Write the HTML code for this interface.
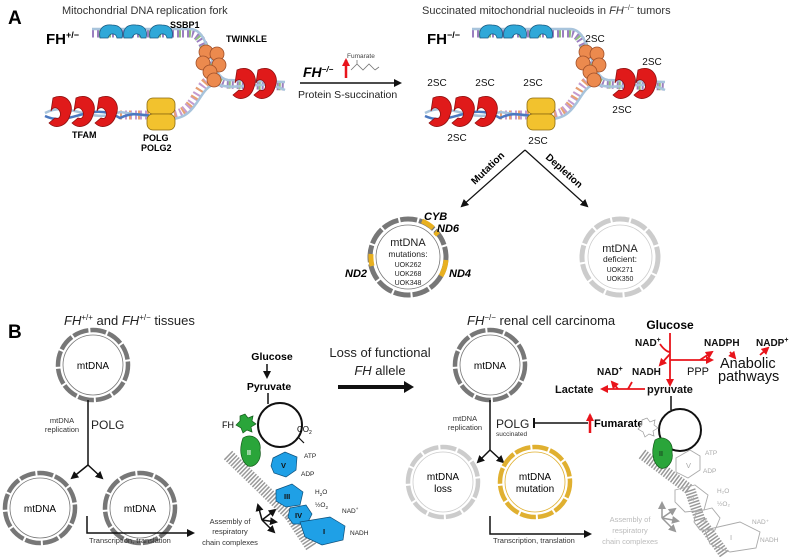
<!DOCTYPE html>
<html><head><meta charset="utf-8"><style>
html,body{margin:0;padding:0;background:#fff;}
svg{display:block;font-family:"Liberation Sans",Arial,sans-serif;}
</style></head><body>
<svg width="800" height="557" viewBox="0 0 800 557" xmlns="http://www.w3.org/2000/svg">
<defs>
<marker id="ah" markerWidth="8" markerHeight="8" refX="6" refY="4" orient="auto" markerUnits="userSpaceOnUse"><path d="M0,0 L8,4 L0,8 Z" fill="#111"/></marker>
<marker id="ahr" markerWidth="8" markerHeight="8" refX="6" refY="4" orient="auto" markerUnits="userSpaceOnUse"><path d="M0,0 L8,4 L0,8 Z" fill="#e8141b"/></marker>
<marker id="ahg" markerWidth="8" markerHeight="8" refX="6" refY="4" orient="auto" markerUnits="userSpaceOnUse"><path d="M0,0 L8,4 L0,8 Z" fill="#999"/></marker>
<g id="fork">
  <path d="M92,33 L190,33 C210,33 206,82 226,84 L285,86" fill="none" stroke="#9b7fc0" stroke-width="9" stroke-dasharray="2 3"/>
  <path d="M92,33 L190,33 C210,33 206,82 226,84 L285,86" fill="none" stroke="#8fc07a" stroke-width="9" stroke-dasharray="2 8" stroke-dashoffset="3"/>
  <path d="M120,115 L170,115 C195,115 196,84 212,78" fill="none" stroke="#c49bd0" stroke-width="9" stroke-dasharray="2 3"/>
  <path d="M120,115 L170,115 C195,115 196,84 212,78" fill="none" stroke="#e8a070" stroke-width="9" stroke-dasharray="2 7"/>
  <path d="M92,29 L190,29 C212,29 208,78 228,80 L285,82" fill="none" stroke="#a8c4dc" stroke-width="2.5"/>
  <path d="M45,113 C70,100 90,125 120,112 L170,119 C198,119 198,88 215,84 C240,92 260,78 285,90" fill="none" stroke="#a8c4dc" stroke-width="2.5"/>
  <path d="M45,116 C70,128 90,100 120,118 C140,108 150,122 170,112" fill="none" stroke="#4a78c0" stroke-width="2.5"/>
  <g fill="#2fa8d8" stroke="#1a5a80" stroke-width="0.8">
    <path d="M100,38 C98,28 104,24 112,25 C120,25 124,30 122,38 L117,38 C116,33 110,32 108,38 Z"/>
    <path d="M124,38 C122,28 128,24 136,25 C144,25 148,30 146,38 L141,38 C140,33 134,32 132,38 Z"/>
    <path d="M150,38 C148,28 154,24 162,25 C170,25 174,30 172,38 L167,38 C166,33 160,32 158,38 Z"/>
  </g>
  <g fill="#ec8a4e" stroke="#a0502a" stroke-width="0.8">
    <circle cx="206" cy="52" r="7"/><circle cx="217" cy="54" r="7"/><circle cx="203" cy="63" r="7"/>
    <circle cx="219" cy="65" r="7"/><circle cx="210" cy="72" r="7"/><circle cx="214" cy="80" r="7"/>
  </g>
  <g fill="#e01a1a" stroke="#901010" stroke-width="0.8">
    <path d="M237,70 C250,64 259,76 254,87 C251,98 240,102 233,95 L239,90 C244,92 246,86 243,82 C240,78 236,80 235,83 Z"/>
    <path d="M258,70 C271,64 280,76 275,87 C272,98 261,102 254,95 L260,90 C265,92 267,86 264,82 C261,78 257,80 256,83 Z"/>
    <path d="M53,98 C66,92 75,104 70,115 C67,126 56,130 49,123 L55,118 C60,120 62,114 59,110 C56,106 52,108 51,111 Z"/>
    <path d="M76,98 C89,92 98,104 93,115 C90,126 79,130 72,123 L78,118 C83,120 85,114 82,110 C79,106 75,108 74,111 Z"/>
    <path d="M99,98 C112,92 121,104 116,115 C113,126 102,130 95,123 L101,118 C106,120 108,114 105,110 C102,106 98,108 97,111 Z"/>
  </g>
  <g fill="#f2c22e" stroke="#8a6a10" stroke-width="0.8">
    <rect x="147" y="98" width="28" height="16" rx="6"/>
    <rect x="147" y="114" width="28" height="16" rx="6"/>
  </g>
</g>
<g id="ring">
  <circle r="38" fill="none" stroke="currentColor" stroke-width="5" stroke-dasharray="17 2"/>
  <circle r="32" fill="#fff" stroke="currentColor" stroke-width="0.8"/>
</g>
<g id="ring2">
  <circle r="35" fill="none" stroke="currentColor" stroke-width="4.5" stroke-dasharray="16 2"/>
  <circle r="30" fill="#fff" stroke="currentColor" stroke-width="0.8"/>
</g>
</defs>

<text x="8" y="24" font-size="19" font-weight="bold">A</text>
<text x="62" y="14" font-size="11" fill="#333">Mitochondrial DNA replication fork</text>
<use href="#fork"/>
<text x="46" y="44" font-size="15" font-weight="bold">FH<tspan font-size="9" dy="-6">+/−</tspan></text>
<text x="170" y="28" font-size="9" font-weight="bold">SSBP1</text>
<text x="226" y="42" font-size="9" font-weight="bold">TWINKLE</text>
<text x="72" y="138" font-size="9" font-weight="bold">TFAM</text>
<text x="143" y="141" font-size="9" font-weight="bold">POLG</text>
<text x="141" y="151" font-size="9" font-weight="bold">POLG2</text>

<line x1="300" y1="83" x2="400" y2="83" stroke="#111" stroke-width="1.5" marker-end="url(#ah)"/>
<text x="303" y="77" font-size="14" font-weight="bold" font-style="italic">FH<tspan font-size="8" dy="-5">−/−</tspan></text>
<line x1="346" y1="78" x2="346" y2="60" stroke="#e8141b" stroke-width="2.5" marker-end="url(#ahr)"/>
<text x="347" y="58" font-size="6.5" fill="#444">Fumarate</text>
<path d="M351,70 L357,64 L363,70 L369,64 L375,70 M357,64 L357,60 M375,70 L379,67" fill="none" stroke="#777" stroke-width="0.8"/>
<text x="298" y="98" font-size="10.5" fill="#222">Protein S-succination</text>

<text x="422" y="14" font-size="11" fill="#333">Succinated mitochondrial nucleoids in <tspan font-style="italic">FH</tspan><tspan font-size="7" dy="-4">−/−</tspan><tspan dy="4"> tumors</tspan></text>
<use href="#fork" transform="translate(380,0)"/>
<text x="427" y="44" font-size="15" font-weight="bold">FH<tspan font-size="9" dy="-6">−/−</tspan></text>
<g font-size="10" fill="#111" text-anchor="middle">
  <text x="595" y="42">2SC</text>
  <text x="652" y="65">2SC</text>
  <text x="437" y="86">2SC</text>
  <text x="485" y="86">2SC</text>
  <text x="533" y="86">2SC</text>
  <text x="457" y="141">2SC</text>
  <text x="538" y="144">2SC</text>
  <text x="622" y="113">2SC</text>
</g>

<line x1="525" y1="150" x2="462" y2="206" stroke="#111" stroke-width="1.2" marker-end="url(#ah)"/>
<line x1="525" y1="150" x2="587" y2="206" stroke="#111" stroke-width="1.2" marker-end="url(#ah)"/>
<text transform="translate(475,185) rotate(-44)" font-size="10" font-weight="bold">Mutation</text>
<text transform="translate(545,158) rotate(42)" font-size="10" font-weight="bold">Depletion</text>

<use href="#ring" x="408" y="257" color="#777"/>
<g stroke="#e8b020" stroke-width="5" fill="none">
  <path d="M422,221 A38,38 0 0 1 433,228"/>
  <path d="M435,232 A38,38 0 0 1 438,235"/>
  <path d="M446,260 A38,38 0 0 1 441,276"/>
  <path d="M372,266 A38,38 0 0 1 371,254"/>
</g>
<g text-anchor="middle" font-size="11" fill="#222">
  <text x="408" y="246">mtDNA</text>
  <text x="408" y="257" font-size="8.5">mutations:</text>
  <text x="408" y="267" font-size="7">UOK262</text>
  <text x="408" y="276" font-size="7">UOK268</text>
  <text x="408" y="285" font-size="7">UOK348</text>
</g>
<g font-size="11" font-weight="bold" font-style="italic">
  <text x="424" y="220">CYB</text>
  <text x="437" y="232">ND6</text>
  <text x="345" y="277">ND2</text>
  <text x="449" y="277">ND4</text>
</g>
<use href="#ring" x="620" y="257" color="#ccc"/>
<g text-anchor="middle" font-size="11" fill="#222">
  <text x="620" y="252">mtDNA</text>
  <text x="620" y="262" font-size="8.5">deficient:</text>
  <text x="620" y="272" font-size="7">UOK271</text>
  <text x="620" y="281" font-size="7">UOK350</text>
</g>

<text x="8" y="338" font-size="19" font-weight="bold">B</text>
<text x="64" y="325" font-size="13" fill="#222"><tspan font-style="italic">FH</tspan><tspan font-size="8" dy="-5">+/+</tspan><tspan dy="5"> and </tspan><tspan font-style="italic">FH</tspan><tspan font-size="8" dy="-5">+/−</tspan><tspan dy="5"> tissues</tspan></text>
<use href="#ring2" x="93" y="365" color="#777"/>
<text x="93" y="369" font-size="10" text-anchor="middle">mtDNA</text>
<line x1="88" y1="400" x2="88" y2="465" stroke="#111" stroke-width="1.5"/>
<line x1="88" y1="465" x2="72" y2="478" stroke="#111" stroke-width="1.5" marker-end="url(#ah)"/>
<line x1="88" y1="465" x2="102" y2="478" stroke="#111" stroke-width="1.5" marker-end="url(#ah)"/>
<text x="62" y="423" font-size="7.5" text-anchor="middle" fill="#333">mtDNA</text>
<text x="62" y="432" font-size="7.5" text-anchor="middle" fill="#333">replication</text>
<text x="91" y="429" font-size="12" fill="#222">POLG</text>
<use href="#ring2" x="40" y="508" color="#777"/>
<text x="40" y="512" font-size="10" text-anchor="middle">mtDNA</text>
<use href="#ring2" x="140" y="508" color="#777"/>
<text x="140" y="512" font-size="10" text-anchor="middle">mtDNA</text>
<path d="M87,516 L87,533 L193,533" fill="none" stroke="#111" stroke-width="1.5" marker-end="url(#ah)"/>
<text x="89" y="543" font-size="7.5" fill="#333">Transcription, translation</text>
<g font-size="7.5" text-anchor="middle" fill="#333">
  <text x="230" y="524">Assembly of</text>
  <text x="230" y="534">respiratory</text>
  <text x="230" y="545">chain complexes</text>
</g>
<g stroke="#111" stroke-width="1.5" marker-end="url(#ah)">
  <line x1="262" y1="520" x2="258" y2="505"/><line x1="262" y1="520" x2="275" y2="510"/>
  <line x1="262" y1="520" x2="276" y2="522"/><line x1="262" y1="520" x2="274" y2="532"/>
</g>
<text x="272" y="360" font-size="10.5" font-weight="bold" text-anchor="middle">Glucose</text>
<line x1="267" y1="364" x2="267" y2="377" stroke="#111" stroke-width="1.5" marker-end="url(#ah)"/>
<text x="269" y="390" font-size="10.5" font-weight="bold" text-anchor="middle">Pyruvate</text>
<circle cx="280" cy="425" r="22" fill="none" stroke="#111" stroke-width="2"/>
<line x1="268" y1="393" x2="268" y2="404" stroke="#111" stroke-width="1.5"/>
<path d="M298,437 L304,443" stroke="#111" stroke-width="1.2"/>
<text x="297" y="432" font-size="8">CO<tspan font-size="5" dy="2">2</tspan></text>
<text x="222" y="428" font-size="9">FH</text>
<path d="M240,416 L245,414 L248,418 L253,416 L252,421 L256,424 L251,427 L252,432 L247,430 L243,433 L241,428 L236,425 L240,421 Z" fill="#2aa53a" stroke="#135a1a" stroke-width="0.7"/>
<path d="M228,455 L290,515 L312,548" fill="none" stroke="#999" stroke-width="12" stroke-dasharray="1.5 1.5"/>
<path d="M243,438 C252,432 262,440 260,450 C262,460 255,468 248,466 C242,462 238,452 243,438 Z" fill="#2aa53a" stroke="#135a1a" stroke-width="0.7"/>
<text x="247" y="455" font-size="7" fill="#fff" font-weight="bold">II</text>
<g fill="#1fa0e6" stroke="#0e4f7a" stroke-width="0.7">
  <path d="M273,458 L285,452 L297,457 L296,470 L286,477 L274,473 L271,466 Z"/>
  <path d="M276,490 L292,484 L303,492 L300,505 L286,507 L276,501 Z"/>
  <path d="M290,508 L306,505 L312,514 L307,524 L293,524 L288,517 Z"/>
  <path d="M300,522 L330,517 L345,526 L343,540 L322,545 L305,537 Z"/>
</g>
<g font-size="7.5" font-weight="bold" fill="#111">
  <text x="281" y="468">V</text><text x="284" y="499">III</text><text x="295" y="518">IV</text><text x="323" y="534">I</text>
</g>
<g font-size="6.5" fill="#222">
  <text x="304" y="458">ATP</text><text x="301" y="476">ADP</text>
  <text x="315" y="494">H<tspan font-size="4.5" dy="2">2</tspan><tspan dy="-2">O</tspan></text>
  <text x="315" y="507">½O<tspan font-size="4.5" dy="2">2</tspan></text>
  <text x="342" y="513">NAD<tspan font-size="4.5" dy="-3">+</tspan></text>
  <text x="350" y="535">NADH</text>
</g>

<text x="380" y="357" font-size="13" text-anchor="middle" fill="#222">Loss of functional</text>
<text x="380" y="375" font-size="13" text-anchor="middle" fill="#222"><tspan font-style="italic">FH</tspan> allele</text>
<line x1="338" y1="387" x2="408" y2="387" stroke="#111" stroke-width="4"/>
<path d="M404,381 L414,387 L404,393 Z" fill="#111"/>

<text x="467" y="325" font-size="13" fill="#222"><tspan font-style="italic">FH</tspan><tspan font-size="8" dy="-5">−/−</tspan><tspan dy="5"> renal cell carcinoma</tspan></text>
<use href="#ring2" x="490" y="365" color="#777"/>
<text x="490" y="369" font-size="10" text-anchor="middle">mtDNA</text>
<line x1="490" y1="400" x2="490" y2="450" stroke="#111" stroke-width="1.5"/>
<line x1="490" y1="450" x2="478" y2="462" stroke="#111" stroke-width="1.5" marker-end="url(#ah)"/>
<line x1="490" y1="450" x2="503" y2="462" stroke="#111" stroke-width="1.5" marker-end="url(#ah)"/>
<text x="465" y="421" font-size="7.5" text-anchor="middle" fill="#333">mtDNA</text>
<text x="465" y="430" font-size="7.5" text-anchor="middle" fill="#333">replication</text>
<text x="496" y="428" font-size="12" fill="#222">POLG</text>
<text x="496" y="436" font-size="6.5" fill="#333">succinated</text>
<line x1="534" y1="423" x2="588" y2="423" stroke="#111" stroke-width="1.5"/>
<line x1="534" y1="418" x2="534" y2="428" stroke="#111" stroke-width="2"/>
<line x1="590" y1="433" x2="590" y2="415" stroke="#e8141b" stroke-width="2.5" marker-end="url(#ahr)"/>
<text x="594" y="427" font-size="11" font-weight="bold">Fumarate</text>
<use href="#ring2" x="443" y="482" color="#ccc"/>
<text x="443" y="480" font-size="10" text-anchor="middle">mtDNA</text>
<text x="443" y="492" font-size="10" text-anchor="middle">loss</text>
<use href="#ring2" x="535" y="482" color="#e0b030"/>
<text x="535" y="480" font-size="10" text-anchor="middle">mtDNA</text>
<text x="535" y="492" font-size="10" text-anchor="middle">mutation</text>
<path d="M490,516 L490,534 L590,534" fill="none" stroke="#111" stroke-width="1.5" marker-end="url(#ah)"/>
<text x="493" y="543" font-size="7.5" fill="#333">Transcription, translation</text>
<g font-size="7.5" text-anchor="middle" fill="#bbb">
  <text x="630" y="522">Assembly of</text>
  <text x="630" y="533">respiratory</text>
  <text x="630" y="544">chain complexes</text>
</g>
<g stroke="#999" stroke-width="1.5" marker-end="url(#ahg)">
  <line x1="662" y1="518" x2="662" y2="503"/><line x1="662" y1="518" x2="675" y2="509"/>
  <line x1="662" y1="518" x2="678" y2="521"/><line x1="662" y1="518" x2="675" y2="531"/>
</g>

<text x="670" y="329" font-size="12" font-weight="bold" text-anchor="middle">Glucose</text>
<g stroke="#e8141b" stroke-width="1.8" fill="none">
  <line x1="670" y1="333" x2="670" y2="385" marker-end="url(#ahr)"/>
  <path d="M660,344 C664,350 668,352 670,352"/>
  <path d="M670,354 L660,365" marker-end="url(#ahr)"/>
  <path d="M670,360 L712,360" marker-end="url(#ahr)"/>
  <path d="M700,360 L712,352" marker-end="url(#ahr)"/>
  <path d="M730,352 L735,358" marker-end="url(#ahr)"/>
  <path d="M760,355 L768,348" marker-end="url(#ahr)"/>
  <path d="M645,389 L602,389" marker-end="url(#ahr)"/>
  <path d="M632,382 L628,389"/>
  <path d="M618,389 L612,382" marker-end="url(#ahr)"/>
</g>
<g font-size="10" font-weight="bold" fill="#111">
  <text x="635" y="346">NAD<tspan font-size="7" dy="-4">+</tspan></text>
  <text x="597" y="375">NAD<tspan font-size="7" dy="-4">+</tspan></text>
  <text x="632" y="375">NADH</text>
  <text x="687" y="375" font-weight="normal" font-size="11">PPP</text>
  <text x="704" y="346">NADPH</text>
  <text x="756" y="346">NADP<tspan font-size="7" dy="-4">+</tspan></text>
  <text x="555" y="393" font-size="11">Lactate</text>
  <text x="647" y="393" font-size="11">pyruvate</text>
</g>
<text x="720" y="368" font-size="14.5" fill="#111">Anabolic</text>
<text x="718" y="381" font-size="14.5" fill="#111">pathways</text>
<circle cx="680" cy="430" r="21" fill="none" stroke="#111" stroke-width="2"/>
<line x1="671" y1="396" x2="671" y2="410" stroke="#111" stroke-width="1.5"/>
<path d="M642,420 L647,418 L650,422 L655,420 L654,425 L658,428 L653,431 L654,436 L649,434 L645,437 L643,432 L638,429 L642,425 Z" fill="#fff" stroke="#999" stroke-width="0.7"/>
<path d="M642,454 L690,490 L700,520 L725,555" fill="none" stroke="#999" stroke-width="11" stroke-dasharray="1.5 1.5"/>
<path d="M655,440 C664,434 674,442 672,452 C674,462 667,470 660,468 C654,464 650,454 655,440 Z" fill="#2aa53a" stroke="#135a1a" stroke-width="0.7"/>
<text x="659" y="456" font-size="7" fill="#111">II</text>
<g fill="none" stroke="#aaa" stroke-width="0.9">
  <path d="M676,458 L690,450 L700,456 L700,470 L688,478 L676,472 Z"/>
  <path d="M675,490 L695,485 L708,495 L704,510 L685,512 L675,502 Z"/>
  <path d="M696,512 L712,508 L720,518 L715,530 L700,530 L694,522 Z"/>
  <path d="M705,530 L740,522 L760,532 L756,548 L730,552 L710,544 Z"/>
</g>
<g font-size="7.5" fill="#aaa">
  <text x="686" y="468">V</text><text x="688" y="501">III</text><text x="700" y="523">IV</text><text x="730" y="540">I</text>
  <text x="705" y="455" font-size="6.5">ATP</text><text x="703" y="473" font-size="6.5">ADP</text>
  <text x="717" y="493" font-size="6.5">H₂O</text><text x="717" y="506" font-size="6.5">½O₂</text>
  <text x="752" y="524" font-size="6.5">NAD⁺</text><text x="760" y="542" font-size="6.5">NADH</text>
</g>
</svg>
</body></html>
